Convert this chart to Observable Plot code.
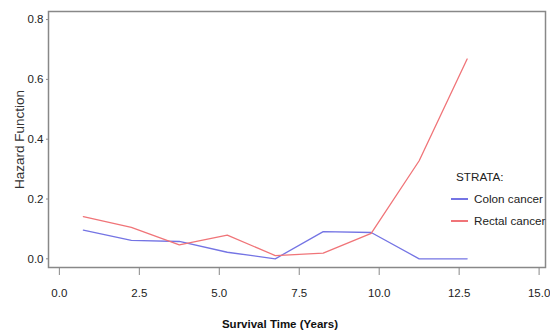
<!DOCTYPE html>
<html>
<head>
<meta charset="utf-8">
<script src="https://cdn.jsdelivr.net/npm/d3@7"></script>
<script src="https://cdn.jsdelivr.net/npm/@observablehq/plot@0.6"></script>
<style>
  html, body { margin: 0; padding: 0; background: #fff; }
  #wrap { position: relative; width: 550px; height: 335px; font-family: "Liberation Sans", Arial, sans-serif; }
  #legend { position: absolute; left: 451px; top: 166px; font-size: 11.7px; color: #222; line-height: 22px; }
  #legend .row { display: flex; align-items: center; }
  #legend .sw { display: inline-block; width: 17px; height: 1.4px; margin-right: 6px; }
</style>
</head>
<body>
<div id="wrap"></div>
<script>
const times = [0.75, 2.25, 3.75, 5.25, 6.75, 8.25, 9.75, 11.25, 12.75];
const colonHazard = [0.096, 0.062, 0.058, 0.022, 0.0, 0.091, 0.088, 0.0, 0.0];
const rectalHazard = [0.141, 0.105, 0.047, 0.079, 0.011, 0.019, 0.085, 0.328, 0.668];
const strata = ["Colon cancer", "Rectal cancer"];
const colors = ["#7474e4", "#f07478"];
const xTicks = [0, 2.5, 5, 7.5, 10, 12.5, 15];
const yTicks = [0, 0.2, 0.4, 0.6, 0.8];

const rows = [];
times.forEach((t, i) => {
  rows.push({time: t, hazard: colonHazard[i], strata: strata[0]});
  rows.push({time: t, hazard: rectalHazard[i], strata: strata[1]});
});

const chart = Plot.plot({
  width: 550,
  height: 335,
  marginLeft: 48,
  marginRight: 5,
  marginTop: 11,
  marginBottom: 68,
  style: {fontFamily: '"Liberation Sans", Arial, sans-serif', fontSize: "11.5px", color: "#222"},
  x: {domain: [-0.34, 15.2], label: null},
  y: {domain: [-0.029, 0.827], label: null},
  color: {domain: strata, range: colors},
  marks: [
    Plot.frame({stroke: "#888", strokeWidth: 1.5}),
    Plot.axisX({ticks: xTicks, tickFormat: d => d.toFixed(1), tickSize: 8, tickPadding: 13, label: null, stroke: "#888"}),
    Plot.axisY({ticks: yTicks, tickFormat: d => d.toFixed(1), tickSize: 2, tickPadding: 3, label: null, stroke: "#888"}),
    Plot.line(rows, {x: "time", y: "hazard", z: "strata", stroke: "strata", strokeWidth: 1.3}),
    Plot.text(["Survival Time (Years)"], {frameAnchor: "bottom", dy: 60, dx: -17, fontWeight: "bold", fontSize: 11.5, fill: "#111"}),
    Plot.text(["Hazard Function"], {frameAnchor: "left", textAnchor: "middle", dx: -29, rotate: -90, fontSize: 13.5, fill: "#333"})
  ]
});
document.getElementById("wrap").appendChild(chart);

const legend = document.createElement("div");
legend.id = "legend";
legend.innerHTML = `<div style="margin-left:5px">STRATA:</div>` +
  strata.map((s, i) => `<div class="row"><span class="sw" style="background:${colors[i]}"></span>${s}</div>`).join("");
document.getElementById("wrap").appendChild(legend);
</script>
</body>
</html>
